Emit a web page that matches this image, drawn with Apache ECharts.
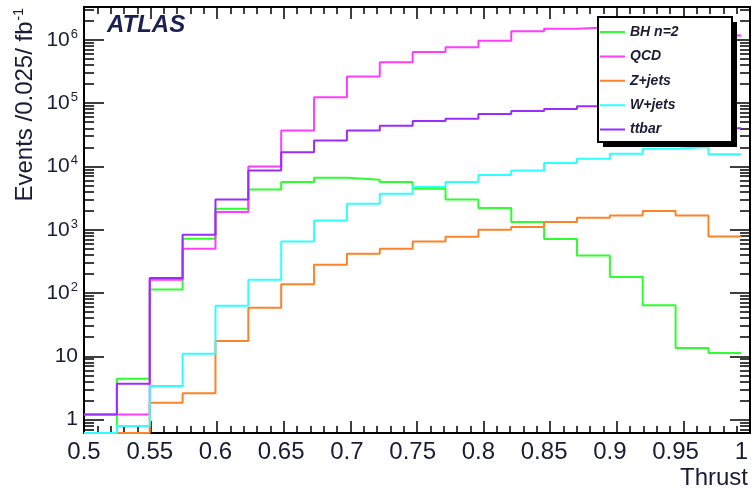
<!DOCTYPE html>
<html>
<head>
<meta charset="utf-8">
<title>Thrust distribution</title>
<script src="https://cdn.jsdelivr.net/npm/echarts@6/dist/echarts.min.js"></script>
<style>
  html, body { margin: 0; padding: 0; background: #fff; }
  #chart { width: 751px; height: 491px; }
</style>
</head>
<body>
<div id="chart"></div>
<script>
// Lower bin edges of the thrust histogram (bin width 0.025)
const thrustEdges = [0.5, 0.525, 0.55, 0.575, 0.6, 0.625, 0.65, 0.675, 0.7, 0.725,
                     0.75, 0.775, 0.8, 0.825, 0.85, 0.875, 0.9, 0.925, 0.95, 0.975];
const thrustUpper = 1.0;

// Events per bin (0 = empty bin)
const bhN2   = [0, 4.4, 114, 721, 2150, 4330, 5650, 6620, 6160, 5650,
                4440, 3010, 2200, 1320, 710, 393, 179, 64, 13.5, 11.3];
const qcd    = [1.2, 1.2, 162, 501, 1900, 10000, 37000, 124000, 264000, 443000,
                640000, 760000, 970000, 1370000, 1490000, 1580000, 1650000, 1700000, 1550000, 1170000];
const zJets  = [0, 0, 1.85, 2.6, 17.4, 58.7, 137, 280, 418, 501,
                650, 775, 1000, 1100, 1320, 1550, 1680, 1970, 1680, 784];
const wJets  = [0, 0.79, 3.4, 11, 63, 162, 650, 1400, 2570, 3700,
                4720, 5650, 7300, 8650, 11300, 13200, 15800, 19000, 20200, 15500];
const ttbar  = [1.2, 3.7, 172, 832, 3000, 8600, 16800, 25700, 37000, 44000,
                52000, 56500, 67000, 75000, 81000, 89000, 93000, 95000, 85000, 40000];

const seriesNames  = ['BH n=2', 'QCD', 'Z+jets', 'W+jets', 'ttbar'];
const seriesColors = ['#2cff2c', '#ff3cff', '#ff8228', '#30ffff', '#9a2cff'];

// Axis ranges and ticks
const yMin = 0.614, yMax = 3.3e6;
const yMajorTicks = [1, 10, 100, 1000, 10000, 100000, 1000000];
const yMinorTicks = [];
[0.1].concat(yMajorTicks).forEach(d => {
  for (let m = 2; m <= 9; m++) {
    const v = m * d;
    if (v > yMin && v < yMax) yMinorTicks.push(+v.toPrecision(3));
  }
});

const textColor = '#1b1b36';
const font = 'Liberation Sans, Arial, Helvetica, sans-serif';
const plotRect = { left: 84, right: 1, top: 7, bottom: 58 };

// Histogram outline: one point per lower edge plus the upper edge of the last bin.
// Empty bins sit on the bottom of the frame.
function histData(values) {
  const pts = thrustEdges.map((x, i) => [x, values[i] > 0 ? values[i] : yMin]);
  const last = values[values.length - 1];
  pts.push([thrustUpper, last > 0 ? last : yMin]);
  return pts;
}

function yLabel(v) {
  if (v === 1) return '{m|1}';
  if (v === 10) return '{m|10}';
  return '{m|10}{s|' + Math.round(Math.log10(v)) + '}';
}

const allValues = [bhN2, qcd, zJets, wJets, ttbar];

// Grid 0 carries the data and the tick labels
const xLabelAxis = {
  gridIndex: 0, type: 'value', position: 'bottom', min: 0.5, max: 1, interval: 0.05,
  axisLine: { show: true, onZero: false, lineStyle: { color: '#000', width: 2 } },
  axisTick: { show: false },
  axisLabel: { show: true, margin: 7, color: textColor, fontFamily: font, fontSize: 24 },
  splitLine: { show: false }
};
const yLabelAxis = {
  gridIndex: 0, type: 'log', position: 'left', min: yMin, max: yMax,
  axisLine: { show: true, onZero: false, lineStyle: { color: '#000', width: 2 } },
  axisTick: { show: false },
  axisLabel: {
    show: true, margin: 6, customValues: yMajorTicks, formatter: yLabel,
    rich: {
      m: { fontSize: 21, fontFamily: font, color: textColor, lineHeight: 24 },
      s: { fontSize: 13, fontFamily: font, color: textColor, lineHeight: 24, verticalAlign: 'top', padding: [0, 0, 10, 1] }
    }
  },
  splitLine: { show: false }
};

// Grid 1 overlays the same rectangle and draws the frame ticks
function xTickAxis(pos) {
  return {
    gridIndex: 1, type: 'value', position: pos, min: 0.5, max: 1, interval: 0.05,
    axisLine: { show: true, lineStyle: { color: '#000', width: 2 } },
    axisTick: { show: true, inside: true, length: 12, lineStyle: { color: '#000', width: 1.5 } },
    minorTick: { show: true, splitNumber: 5, length: 7, lineStyle: { color: '#000', width: 1.5 } },
    axisLabel: { show: false },
    splitLine: { show: false }
  };
}
function yTickAxis(pos, major) {
  return {
    gridIndex: 1, type: 'log', position: pos, min: yMin, max: yMax,
    axisLine: { show: major, lineStyle: { color: '#000', width: 2 } },
    axisTick: {
      show: true, inside: true, length: major ? 20 : 10,
      customValues: major ? yMajorTicks : yMinorTicks,
      lineStyle: { color: '#000', width: 1.5 }
    },
    axisLabel: { show: false },
    splitLine: { show: false }
  };
}

// Thin horizontal stroke used as the legend key
const legendLineIcon = 'path://M0,0L0.01,0L0,0.01ZM0,6L25,6L25,8L0,8ZM0,14L0.01,14L0,13.99Z';

const chart = echarts.init(document.getElementById('chart'));

chart.setOption({
  animation: false,
  backgroundColor: '#fff',
  grid: [Object.assign({}, plotRect), Object.assign({}, plotRect)],
  xAxis: [xLabelAxis, xTickAxis('bottom'), xTickAxis('top')],
  yAxis: [yLabelAxis, yTickAxis('left', true), yTickAxis('left', false), yTickAxis('right', true), yTickAxis('right', false)],
  series: seriesNames.map((name, k) => ({
    name: name,
    type: 'line',
    xAxisIndex: 0, yAxisIndex: 0,
    step: 'end',
    symbol: 'none', showSymbol: false,
    clip: true,
    color: seriesColors[k],
    lineStyle: { color: seriesColors[k], width: 2 },
    z: 2 + k,
    data: histData(allValues[k])
  })),
  legend: {
    show: true, orient: 'vertical', left: 600, top: 25,
    itemWidth: 25, itemHeight: 14, itemGap: 10.4, padding: 0, z: 20,
    icon: legendLineIcon,
    data: seriesNames, selectedMode: false,
    textStyle: { fontFamily: font, fontSize: 14, fontStyle: 'italic', fontWeight: 'bold', color: textColor }
  },
  graphic: [
    { type: 'rect', z: 10, shape: { x: 603, y: 22, width: 134, height: 125 }, style: { fill: '#000' } },
    { type: 'rect', z: 11, shape: { x: 598, y: 17, width: 134, height: 125 }, style: { fill: '#fff', stroke: '#000', lineWidth: 2 } },
    { type: 'text', z: 12, x: 107, y: 25, style: {
        text: 'ATLAS', fontFamily: font, fontSize: 24, fontStyle: 'italic', fontWeight: 'bold',
        fill: '#1c2050', align: 'left', verticalAlign: 'middle' } },
    { type: 'text', z: 12, x: 748, y: 478, style: {
        text: 'Thrust', fontFamily: font, fontSize: 24, fill: textColor, align: 'right', verticalAlign: 'middle' } },
    { type: 'text', z: 12, x: 25, y: 8, rotation: Math.PI / 2, style: {
        text: '{a|Events /0.025/ fb}{b|-1}', align: 'right', verticalAlign: 'middle',
        rich: {
          a: { fontFamily: font, fontSize: 24, fill: textColor, lineHeight: 28 },
          b: { fontFamily: font, fontSize: 14, fill: textColor, lineHeight: 28, padding: [0, 0, 11, 1] }
        } } }
  ]
});
</script>
</body>
</html>
